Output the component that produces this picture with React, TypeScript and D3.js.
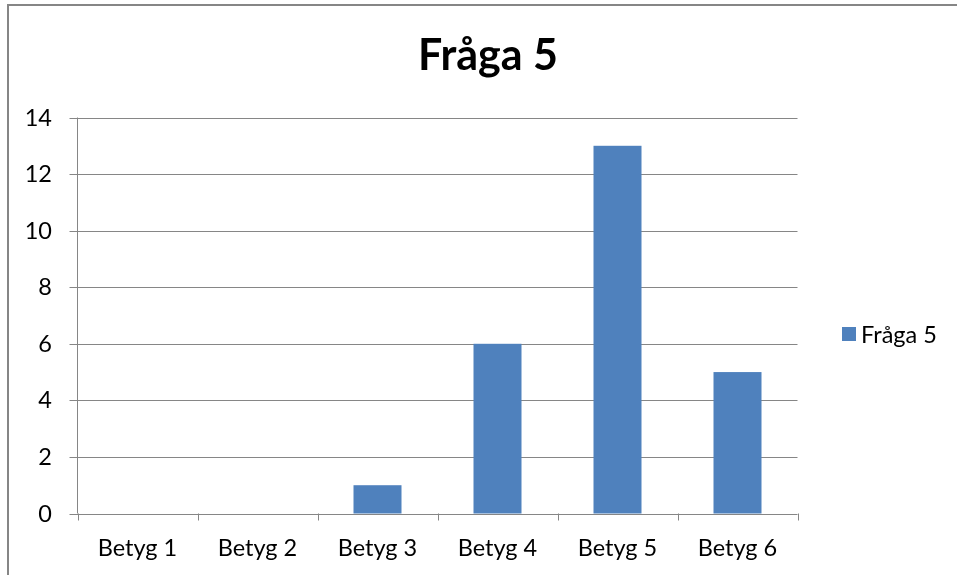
import React, { useRef, useEffect } from 'react';
import * as d3 from 'd3';

const categories = ['Betyg 1', 'Betyg 2', 'Betyg 3', 'Betyg 4', 'Betyg 5', 'Betyg 6'];
const values = [0, 0, 1, 6, 13, 5];
const yTicks = [0, 2, 4, 6, 8, 10, 12, 14];
const seriesName = 'Fråga 5';
const title = 'Fråga 5';

const App = () => {
  const svgRef = useRef<SVGSVGElement>(null);

  useEffect(() => {
    const W = 957;
    const H = 575;
    const left = 77.5;
    const right = 797.5;
    const top = 117.5;
    const bottom = 513.5;
    const font = 'Lato, Carlito, Calibri, sans-serif';
    const grey = '#868686';

    const svg = d3.select(svgRef.current);
    svg.selectAll('*').remove();
    svg.attr('width', W).attr('height', H);

    // outer chart frame (only top and left edges fall inside the picture)
    svg.append('line')
      .attr('x1', 8).attr('x2', W).attr('y1', 5).attr('y2', 5)
      .attr('stroke', grey).attr('stroke-width', 2);
    svg.append('line')
      .attr('x1', 8).attr('x2', 8).attr('y1', 4).attr('y2', H)
      .attr('stroke', grey).attr('stroke-width', 2);

    svg.append('text')
      .attr('x', 488).attr('y', 70)
      .attr('text-anchor', 'middle')
      .attr('font-family', font).attr('font-weight', 'bold')
      .attr('font-size', 43)
      .text(title);

    const x = d3.scaleBand().domain(categories).range([left, right]);
    const y = d3.scaleLinear().domain([0, 14]).range([bottom, top]);

    // gridlines
    svg.append('g')
      .selectAll('line')
      .data(yTicks)
      .join('line')
      .attr('x1', left - 8).attr('x2', right)
      .attr('y1', d => Math.round(y(d)) + 0.5).attr('y2', d => Math.round(y(d)) + 0.5)
      .attr('stroke', grey).attr('stroke-width', 1);

    // y axis
    svg.append('line')
      .attr('x1', left).attr('x2', left)
      .attr('y1', top).attr('y2', bottom)
      .attr('stroke', grey);

    svg.append('g')
      .selectAll('text')
      .data(yTicks)
      .join('text')
      .attr('x', 52)
      .attr('y', d => y(d) + 8)
      .attr('text-anchor', 'end')
      .attr('font-family', font).attr('font-size', 23.5)
      .text(d => d);

    // bars
    const bw = x.bandwidth() * 0.4;
    svg.append('g')
      .selectAll('rect')
      .data(values)
      .join('rect')
      .attr('x', (d, i) => x(categories[i])! + (x.bandwidth() - bw) / 2)
      .attr('y', d => y(d))
      .attr('width', bw)
      .attr('height', d => bottom - y(d))
      .attr('fill', '#4F81BD');

    // x axis ticks
    const edges = categories.map(c => x(c)!).concat([right]);
    svg.append('g')
      .selectAll('line')
      .data(edges)
      .join('line')
      .attr('x1', d => Math.round(d) + 0.5).attr('x2', d => Math.round(d) + 0.5)
      .attr('y1', bottom).attr('y2', bottom + 7)
      .attr('stroke', grey);

    svg.append('g')
      .selectAll('text')
      .data(categories)
      .join('text')
      .attr('x', d => x(d)! + x.bandwidth() / 2)
      .attr('y', 556)
      .attr('text-anchor', 'middle')
      .attr('font-family', font).attr('font-size', 23.5)
      .text(d => d);

    // legend
    svg.append('rect')
      .attr('x', 842).attr('y', 327)
      .attr('width', 14).attr('height', 14)
      .attr('fill', '#4F81BD');
    svg.append('text')
      .attr('x', 861).attr('y', 343)
      .attr('font-family', font).attr('font-size', 23.5)
      .text(seriesName);
  }, []);

  return <svg ref={svgRef} style={{ position: 'fixed', left: 0, top: 0, display: 'block' }} />;
};

export default App;
